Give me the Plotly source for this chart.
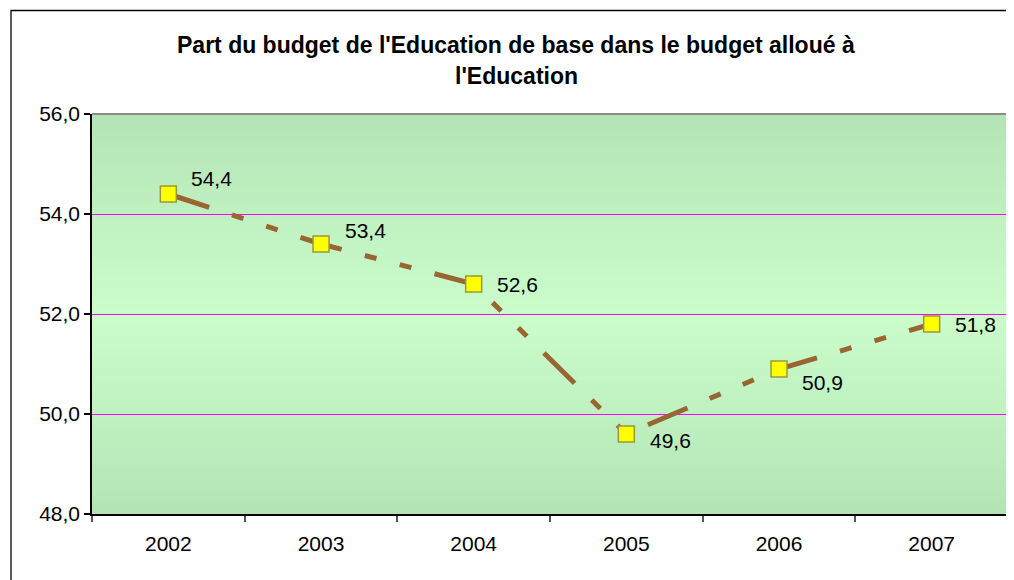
import plotly.graph_objects as go

years = ["2002", "2003", "2004", "2005", "2006", "2007"]
share = [54.4, 53.4, 52.6, 49.6, 50.9, 51.8]
labels = ["54,4", "53,4", "52,6", "49,6", "50,9", "51,8"]
y_ticks = [48, 50, 52, 54, 56]
y_ticklabels = ["48,0", "50,0", "52,0", "54,0", "56,0"]
title_lines = ["Part du budget de l'Education de base dans le budget alloué à",
               "l'Education"]

# style: label offsets in pixels (right / up)
label_xshift = [21, 22, 21, 22, 21, 21]
label_yshift = [16, 14, 0, -6, -13, 0]

FONT = "Liberation Sans, Arial, sans-serif"
PAGE = 8  # default body margin of the page

fig = go.Figure()
fig.add_trace(go.Scatter(
    x=years, y=share, mode="lines+markers",
    line=dict(color="#996633", width=5, dash="43px,24px,12px,24px,12px,24px"),
    marker=dict(symbol="square", size=16, color="#FFFF00",
                line=dict(color="#99993A", width=1.5)),
    cliponaxis=False, showlegend=False, hoverinfo="skip",
))

for i, (y, t, dx, dy) in enumerate(zip(share, labels, label_xshift, label_yshift)):
    fig.add_annotation(x=i, y=y, xref="x", yref="y", text=t, showarrow=False,
                       xanchor="left", yanchor="middle", xshift=dx, yshift=dy,
                       font=dict(family=FONT, size=21, color="black"))

# gradient background bands
top = (180, 228, 182)
mid = (203, 253, 203)
n = 60
shapes = []
for i in range(n):
    f0 = i / n
    f1 = (i + 1) / n
    c = abs((f0 + f1) / 2 - 0.5) * 2  # 0 at centre, 1 at edges
    col = tuple(round(mid[k] + (top[k] - mid[k]) * c) for k in range(3))
    shapes.append(dict(type="rect", xref="x domain", yref="y domain",
                       x0=0, x1=1, y0=f0, y1=f1 + 0.002, layer="below",
                       line=dict(width=0), fillcolor="rgb(%d,%d,%d)" % col))
# plot area gray top / right border
shapes.append(dict(type="line", xref="x domain", yref="y domain", x0=0, x1=1,
                   y0=1, y1=1, line=dict(color="#8C8C8C", width=2), layer="above"))
shapes.append(dict(type="line", xref="x domain", yref="y domain", x0=1, x1=1,
                   y0=0, y1=1, line=dict(color="#8C8C8C", width=2), layer="above"))
# outer chart border
shapes.append(dict(type="rect", xref="paper", yref="paper",
                   x0=(11 - 92) / 916, x1=1.2, y0=-0.5, y1=(514 - 10.5) / 400,
                   line=dict(color="black", width=1.3), fillcolor="rgba(0,0,0,0)",
                   layer="above"))

fig.add_annotation(xref="paper", yref="paper", x=(516 - 92) / 916,
                   y=(514 - 45) / 400, text="<b>%s</b>" % title_lines[0],
                   showarrow=False, xanchor="center", yanchor="middle",
                   font=dict(family=FONT, size=23, color="black"))
fig.add_annotation(xref="paper", yref="paper", x=(516 - 92) / 916,
                   y=(514 - 76) / 400, text="<b>%s</b>" % title_lines[1],
                   showarrow=False, xanchor="center", yanchor="middle",
                   font=dict(family=FONT, size=23, color="black"))

fig.update_layout(
    width=1014, height=580,
    margin=dict(l=92 - PAGE, r=6 + PAGE, t=114 - PAGE, b=66 + PAGE),
    paper_bgcolor="white", plot_bgcolor="rgba(0,0,0,0)",
    shapes=shapes,
    font=dict(family=FONT, size=21, color="black"),
    xaxis=dict(type="category", range=[-0.5, 5.5], tickson="boundaries",
               ticks="outside", ticklen=6, tickcolor="#555555", tickwidth=1.5,
               showline=True, linecolor="black", linewidth=1.5,
               showgrid=False, zeroline=False, ticklabelstandoff=10,
               tickfont=dict(family=FONT, size=21, color="black")),
    yaxis=dict(range=[48, 56], tickvals=y_ticks, ticktext=y_ticklabels,
               ticks="outside", ticklen=6, tickcolor="black", tickwidth=1.5,
               showline=True, linecolor="black", linewidth=1.5,
               showgrid=True, gridcolor="#FF00FF", gridwidth=1,
               zeroline=False,
               tickfont=dict(family=FONT, size=21, color="black")),
)

fig.write_html("out.html")
